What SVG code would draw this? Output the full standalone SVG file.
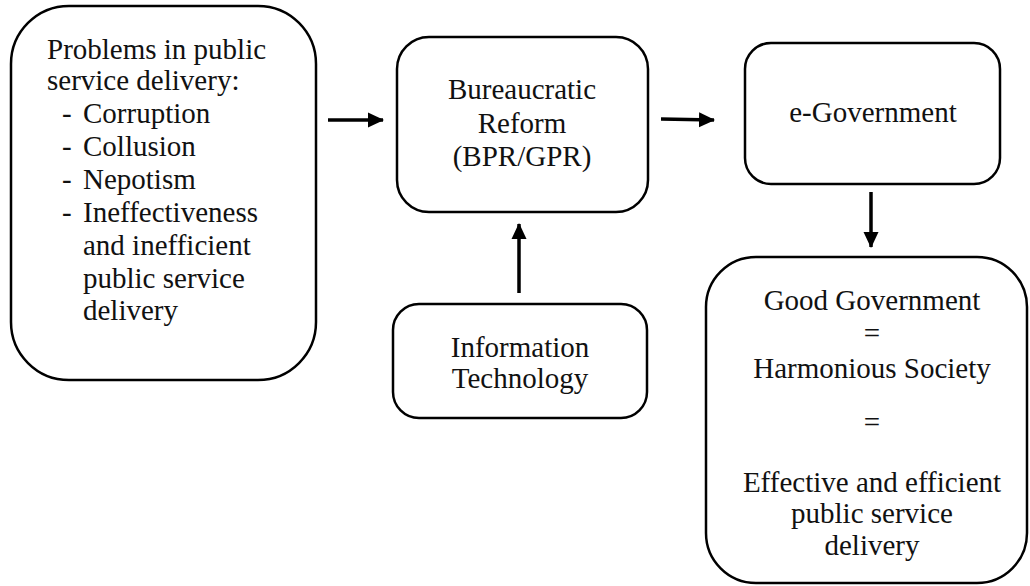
<svg xmlns="http://www.w3.org/2000/svg" width="1030" height="586" viewBox="0 0 1030 586">
<defs>
<style>
.box{fill:#fff;stroke:#000;stroke-width:2.5}
.t{font-family:"Liberation Serif","Times New Roman",serif;font-size:29px;fill:#111}
.c{text-anchor:middle}
.conn{stroke:#000;stroke-width:3.5;fill:none;marker-end:url(#ah)}
</style>
<marker id="ah" markerUnits="userSpaceOnUse" markerWidth="16" markerHeight="16" refX="15" refY="8" orient="auto">
<path d="M0,0.5 L16,8 L0,15.5 Z" fill="#000"/>
</marker>
</defs>
<rect width="1030" height="586" fill="#fff"/>
<g id="problems">
<rect class="box" x="11" y="6" width="305" height="374" rx="58" ry="58"/>
<text class="t" x="47" y="59">Problems in public</text>
<text class="t" x="47" y="90">service delivery:</text>
<text class="t" x="62" y="123">-</text><text class="t" x="83" y="123">Corruption</text>
<text class="t" x="62" y="156">-</text><text class="t" x="83" y="156">Collusion</text>
<text class="t" x="62" y="189">-</text><text class="t" x="83" y="189">Nepotism</text>
<text class="t" x="62" y="222">-</text><text class="t" x="83" y="222">Ineffectiveness</text>
<text class="t" x="83" y="255">and inefficient</text>
<text class="t" x="83" y="288">public service</text>
<text class="t" x="83" y="320">delivery</text>
</g>
<g id="reform">
<rect class="box" x="397" y="37" width="251" height="175" rx="32" ry="32"/>
<text class="t c" x="522" y="99">Bureaucratic</text>
<text class="t c" x="522" y="133">Reform</text>
<text class="t c" x="522" y="166">(BPR/GPR)</text>
</g>
<g id="egov">
<rect class="box" x="745" y="43" width="255" height="141" rx="26" ry="26"/>
<text class="t c" x="873" y="122">e-Government</text>
</g>
<g id="it">
<rect class="box" x="393" y="304" width="254" height="114" rx="26" ry="26"/>
<text class="t c" x="520" y="357">Information</text>
<text class="t c" x="520" y="388">Technology</text>
</g>
<g id="good">
<rect class="box" x="706" y="257" width="321" height="326" rx="50" ry="50"/>
<text class="t c" x="872" y="310">Good Government</text>
<text class="t c" x="872" y="343">=</text>
<text class="t c" x="872" y="378">Harmonious Society</text>
<text class="t c" x="872" y="432">=</text>
<text class="t c" x="872" y="492">Effective and efficient</text>
<text class="t c" x="872" y="523">public service</text>
<text class="t c" x="872" y="555">delivery</text>
</g>
<g id="connectors">
<line class="conn" x1="328" y1="120" x2="383" y2="120"/>
<line class="conn" x1="661" y1="119" x2="714" y2="120"/>
<line class="conn" x1="519" y1="293" x2="519" y2="224"/>
<line class="conn" x1="871" y1="192" x2="871" y2="247"/>
</g>
</svg>
